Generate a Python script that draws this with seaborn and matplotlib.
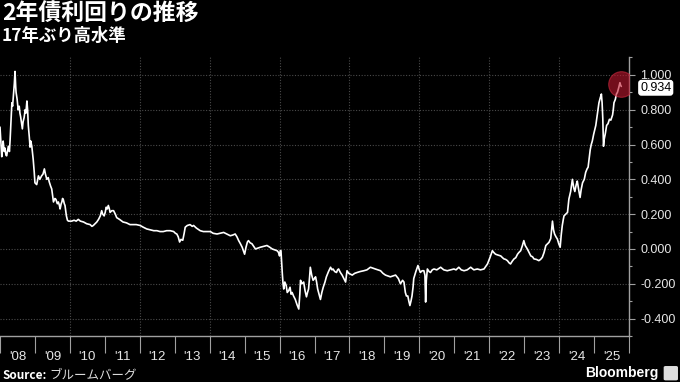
import matplotlib
matplotlib.use("Agg")
import matplotlib.pyplot as plt
import matplotlib.transforms as mtransforms
from matplotlib.patches import FancyBboxPatch
from matplotlib.ticker import FixedLocator, NullFormatter, FixedFormatter, MultipleLocator, FuncFormatter
import seaborn as sns
import pandas as pd

# ---- data ----
years = [
    2008.00, 2008.03, 2008.05, 2008.07, 2008.09, 2008.12, 2008.14, 2008.17, 2008.19, 2008.22,
    2008.24, 2008.27, 2008.29, 2008.32, 2008.34, 2008.36, 2008.38, 2008.41, 2008.43, 2008.45,
    2008.46, 2008.49, 2008.52, 2008.55, 2008.57, 2008.59, 2008.62, 2008.64, 2008.66, 2008.69,
    2008.72, 2008.74, 2008.77, 2008.79, 2008.81, 2008.84, 2008.86, 2008.88, 2008.91, 2008.93,
    2008.95, 2008.98, 2009.00, 2009.05, 2009.08, 2009.10, 2009.14, 2009.19, 2009.23, 2009.27,
    2009.30, 2009.34, 2009.38, 2009.41, 2009.45, 2009.48, 2009.51, 2009.53, 2009.57, 2009.60,
    2009.64, 2009.67, 2009.70, 2009.72, 2009.75, 2009.77, 2009.79, 2009.81, 2009.84, 2009.86,
    2009.90, 2009.93, 2009.96, 2010.05, 2010.12, 2010.18, 2010.24, 2010.30, 2010.39, 2010.48,
    2010.58, 2010.63, 2010.67, 2010.72, 2010.77, 2010.82, 2010.87, 2010.91, 2010.94, 2010.98,
    2011.01, 2011.04, 2011.07, 2011.10, 2011.13, 2011.15, 2011.20, 2011.25, 2011.30, 2011.34,
    2011.42, 2011.52, 2011.62, 2011.72, 2011.81, 2011.90, 2012.01, 2012.10, 2012.20, 2012.30,
    2012.40, 2012.49, 2012.58, 2012.67, 2012.77, 2012.87, 2012.97, 2013.02, 2013.06, 2013.10,
    2013.14, 2013.18, 2013.23, 2013.27, 2013.30, 2013.36, 2013.44, 2013.50, 2013.54, 2013.62,
    2013.73, 2013.82, 2013.92, 2014.02, 2014.10, 2014.21, 2014.30, 2014.40, 2014.50, 2014.59,
    2014.66, 2014.73, 2014.78, 2014.83, 2014.88, 2014.93, 2015.00, 2015.04, 2015.08, 2015.11,
    2015.16, 2015.21, 2015.26, 2015.31, 2015.38, 2015.45, 2015.55, 2015.64, 2015.72, 2015.79,
    2015.86, 2015.93, 2015.97, 2016.00, 2016.02, 2016.04, 2016.06, 2016.08, 2016.10, 2016.12,
    2016.15, 2016.19, 2016.22, 2016.26, 2016.30, 2016.33, 2016.36, 2016.40, 2016.45, 2016.50,
    2016.55, 2016.58, 2016.60, 2016.64, 2016.69, 2016.73, 2016.77, 2016.80, 2016.83, 2016.86,
    2016.88, 2016.92, 2016.96, 2017.00, 2017.03, 2017.06, 2017.09, 2017.13, 2017.17, 2017.21,
    2017.25, 2017.30, 2017.34, 2017.40, 2017.46, 2017.50, 2017.53, 2017.58, 2017.63, 2017.66,
    2017.69, 2017.74, 2017.79, 2017.84, 2017.89, 2017.93, 2017.98, 2018.03, 2018.08, 2018.15,
    2018.22, 2018.30, 2018.41, 2018.50, 2018.60, 2018.67, 2018.74, 2018.82, 2018.89, 2018.96,
    2019.03, 2019.10, 2019.17, 2019.25, 2019.32, 2019.40, 2019.46, 2019.52, 2019.56, 2019.60,
    2019.63, 2019.67, 2019.70, 2019.73, 2019.76, 2019.79, 2019.82, 2019.84, 2019.90, 2019.96,
    2020.00, 2020.03, 2020.08, 2020.13, 2020.16, 2020.18, 2020.20, 2020.23, 2020.28, 2020.32,
    2020.37, 2020.42, 2020.50, 2020.61, 2020.70, 2020.80, 2020.90, 2020.99, 2021.05, 2021.13,
    2021.20, 2021.28, 2021.37, 2021.47, 2021.56, 2021.66, 2021.75, 2021.85, 2021.90, 2021.95,
    2022.02, 2022.09, 2022.13, 2022.18, 2022.25, 2022.33, 2022.38, 2022.42, 2022.47, 2022.52,
    2022.57, 2022.61, 2022.66, 2022.71, 2022.76, 2022.81, 2022.85, 2022.90, 2022.95, 2022.99,
    2023.03, 2023.09, 2023.14, 2023.19, 2023.24, 2023.28, 2023.35, 2023.42, 2023.47, 2023.52,
    2023.57, 2023.62, 2023.67, 2023.71, 2023.76, 2023.81, 2023.84, 2023.87, 2023.91, 2023.95,
    2023.99, 2024.03, 2024.06, 2024.09, 2024.12, 2024.14, 2024.19, 2024.24, 2024.28, 2024.33,
    2024.38, 2024.42, 2024.45, 2024.49, 2024.52, 2024.56, 2024.60, 2024.63, 2024.67, 2024.72,
    2024.76, 2024.80, 2024.83, 2024.86, 2024.89, 2024.92, 2024.95, 2024.99, 2025.05, 2025.10,
    2025.14, 2025.18, 2025.21, 2025.23, 2025.25, 2025.27, 2025.29, 2025.32, 2025.36, 2025.40,
    2025.44, 2025.48, 2025.53, 2025.55, 2025.57, 2025.61, 2025.64, 2025.67, 2025.71, 2025.74,
    2025.76, 2025.78,
]
yields = [
    0.70, 0.60, 0.53, 0.58, 0.62, 0.56, 0.58, 0.54, 0.535, 0.57,
    0.59, 0.56, 0.63, 0.75, 0.84, 0.82, 0.87, 0.95, 1.02, 0.93,
    0.90, 0.86, 0.80, 0.82, 0.78, 0.76, 0.72, 0.69, 0.73, 0.755,
    0.80, 0.78, 0.85, 0.80, 0.71, 0.64, 0.585, 0.62, 0.59, 0.55,
    0.515, 0.44, 0.38, 0.37, 0.40, 0.42, 0.40, 0.42, 0.43, 0.46,
    0.43, 0.40, 0.41, 0.385, 0.36, 0.345, 0.30, 0.27, 0.29, 0.285,
    0.26, 0.27, 0.25, 0.23, 0.26, 0.27, 0.29, 0.285, 0.26, 0.25,
    0.19, 0.165, 0.16, 0.16, 0.165, 0.16, 0.17, 0.16, 0.155, 0.145,
    0.14, 0.13, 0.135, 0.145, 0.155, 0.17, 0.19, 0.22, 0.20, 0.19,
    0.21, 0.24, 0.23, 0.25, 0.23, 0.21, 0.22, 0.22, 0.20, 0.18,
    0.17, 0.155, 0.15, 0.14, 0.14, 0.14, 0.135, 0.125, 0.115, 0.11,
    0.105, 0.105, 0.10, 0.10, 0.105, 0.105, 0.10, 0.09, 0.086, 0.07,
    0.04, 0.055, 0.05, 0.09, 0.125, 0.135, 0.14, 0.13, 0.135, 0.12,
    0.105, 0.10, 0.10, 0.10, 0.09, 0.086, 0.09, 0.095, 0.085, 0.076,
    0.08, 0.086, 0.07, 0.048, 0.03, 0.01, -0.03, 0.01, 0.04, 0.048,
    0.035, 0.03, 0.015, 0.0, 0.005, 0.01, 0.015, 0.02, 0.01, 0.0,
    -0.005, -0.01, -0.02, -0.04, -0.01, -0.01, -0.08, -0.145, -0.20, -0.23,
    -0.19, -0.21, -0.25, -0.24, -0.22, -0.26, -0.25, -0.27, -0.29, -0.32,
    -0.345, -0.26, -0.18, -0.20, -0.19, -0.24, -0.275, -0.25, -0.23, -0.16,
    -0.105, -0.15, -0.18, -0.17, -0.16, -0.19, -0.23, -0.26, -0.29, -0.25,
    -0.22, -0.19, -0.16, -0.13, -0.105, -0.12, -0.115, -0.13, -0.135, -0.12,
    -0.115, -0.135, -0.15, -0.17, -0.19, -0.125, -0.14, -0.145, -0.15, -0.14,
    -0.135, -0.13, -0.125, -0.12, -0.105, -0.11, -0.115, -0.12, -0.125, -0.14,
    -0.15, -0.155, -0.16, -0.155, -0.15, -0.17, -0.20, -0.18, -0.19, -0.25,
    -0.27, -0.27, -0.30, -0.325, -0.30, -0.27, -0.22, -0.17, -0.13, -0.095,
    -0.12, -0.135, -0.125, -0.125, -0.15, -0.305, -0.18, -0.115, -0.13, -0.135,
    -0.12, -0.115, -0.12, -0.105, -0.12, -0.125, -0.12, -0.115, -0.12, -0.105,
    -0.12, -0.125, -0.12, -0.105, -0.12, -0.115, -0.12, -0.115, -0.10, -0.086,
    -0.05, -0.01, -0.02, -0.03, -0.035, -0.04, -0.05, -0.057, -0.06, -0.067,
    -0.08, -0.086, -0.07, -0.057, -0.05, -0.03, -0.02, -0.01, 0.02, 0.048,
    0.02, 0.0, -0.02, -0.04, -0.045, -0.057, -0.06, -0.067, -0.06, -0.048,
    -0.02, 0.02, 0.03, 0.038, 0.06, 0.16, 0.11, 0.086, 0.07, 0.057,
    0.03, 0.01, 0.08, 0.134, 0.17, 0.19, 0.20, 0.21, 0.287, 0.33,
    0.40, 0.35, 0.33, 0.37, 0.39, 0.34, 0.296, 0.34, 0.38, 0.40,
    0.44, 0.46, 0.47, 0.52, 0.57, 0.60, 0.62, 0.66, 0.71, 0.78,
    0.84, 0.87, 0.89, 0.84, 0.75, 0.59, 0.63, 0.66, 0.71, 0.72,
    0.745, 0.74, 0.77, 0.80, 0.84, 0.86, 0.89, 0.90, 0.93, 0.955,
    0.94, 0.934,
]

year_starts = list(range(2008, 2027))
year_labels = ["'08", "'09", "'10", "'11", "'12", "'13", "'14", "'15", "'16",
               "'17", "'18", "'19", "'20", "'21", "'22", "'23", "'24", "'25"]
y_ticks = [-0.4, -0.2, 0.0, 0.2, 0.4, 0.6, 0.8, 1.0]

title = "2年債利回りの推移"
subtitle = "17年ぶり高水準"
source_label = "Source:"
source_text = "ブルームバーグ"

df = pd.DataFrame({"year": years, "yield": yields})

# ---- style ----
sns.set_theme(style="dark")
plt.rcParams["font.family"] = ["Liberation Sans", "Noto Sans CJK JP", "DejaVu Sans"]
BG = "black"
GRID = "#4a4a4a"
AXC = "#a0a0a0"
TXT = "#e6e6e6"

fig = plt.figure(figsize=(6.8, 3.82), dpi=100, facecolor=BG)
ax = fig.add_axes([0.0, 0.1204, 0.925, 0.7291], facecolor=BG)

sns.lineplot(data=df, x="year", y="yield", ax=ax, color="white", lw=1.2, zorder=3)

ax.set_xlim(2008, 2026)
ax.set_ylim(-0.5, 1.1)

# x axis: separators at year starts, labels centered in each year
ax.xaxis.set_major_locator(FixedLocator(year_starts))
ax.xaxis.set_major_formatter(NullFormatter())
ax.xaxis.set_minor_locator(FixedLocator([y + 0.5 for y in year_starts[:-1]]))
ax.xaxis.set_minor_formatter(FixedFormatter(year_labels))
ax.tick_params(axis="x", which="major", length=12, width=0.8, color=AXC, direction="out",
               bottom=True)
ax.tick_params(axis="x", which="minor", length=0, pad=11, labelsize=9.5, labelcolor=TXT,
               bottom=True)

# y axis on right
ax.yaxis.tick_right()
ax.yaxis.set_label_position("right")
ax.yaxis.set_major_locator(FixedLocator(y_ticks))
ax.yaxis.set_minor_locator(MultipleLocator(0.1))
ax.yaxis.set_major_formatter(FuncFormatter(lambda v, p: f"{v:.3f}"))
ax.tick_params(axis="y", which="major", length=4, width=0.8, color=AXC, pad=4,
               labelsize=9, labelcolor=TXT, left=False, right=True)
ax.tick_params(axis="y", which="minor", length=2.5, width=0.8, color=AXC, left=False, right=True)

ax.set_xlabel("")
ax.set_ylabel("")

# grid
ax.grid(False)
for v in y_ticks:
    ax.axhline(v, color=GRID, lw=0.8, ls=(0, (1, 1.5)), zorder=1)
for yr in year_starts[2:-1:2]:
    ax.axvline(yr, color=GRID, lw=0.8, ls=(0, (1, 1.5)), zorder=1)

for s in ["left", "top"]:
    ax.spines[s].set_visible(False)
for s in ["bottom", "right"]:
    ax.spines[s].set_visible(True)
    ax.spines[s].set_color(AXC)
    ax.spines[s].set_linewidth(1.0)

# highlight circle on latest value
ax.scatter([years[-1]], [yields[-1] + 0.015], s=340, color="#c0182f", alpha=0.6,
           edgecolors="#d02a40", linewidths=0.8, zorder=4)

# latest value tag
trans = mtransforms.blended_transform_factory(ax.transAxes, ax.transData)
ax.annotate(f"{yields[-1]:.3f}", xy=(1.0, yields[-1]), xycoords=trans,
            xytext=(8, -1), textcoords="offset points", ha="left", va="center",
            fontsize=9, color="black", annotation_clip=False,
            bbox=dict(boxstyle="round,pad=0.1,rounding_size=0.2", fc="white", ec="white"))

# titles
cjk = ["Noto Sans CJK JP", "DejaVu Sans"]
fig.text(0.003, 0.963, title, family=cjk, fontsize=16.5, fontweight="bold",
         color="white", ha="left", va="center")
fig.text(0.003, 0.907, subtitle, family=cjk, fontsize=12.5, fontweight="bold",
         color="white", ha="left", va="center")

# footer
fig.text(0.004, 0.016, source_label, family=cjk, fontsize=8.5, fontweight="bold",
         color="white", ha="left", va="center")
fig.text(0.072, 0.016, source_text, family=cjk, fontsize=9, color="#dddddd",
         ha="left", va="center", style="italic")
fig.text(0.968, 0.024, "Bloomberg", family=["Liberation Sans", "DejaVu Sans"], fontsize=10,
         fontweight="bold", color="white", ha="right", va="center")
fig.patches.append(FancyBboxPatch((0.979, 0.008), 0.015, 0.03, boxstyle="round,pad=0.002",
                                  transform=fig.transFigure, fc="#dddddd", ec="#dddddd"))

fig.savefig("out.png", dpi=100, facecolor=BG)
